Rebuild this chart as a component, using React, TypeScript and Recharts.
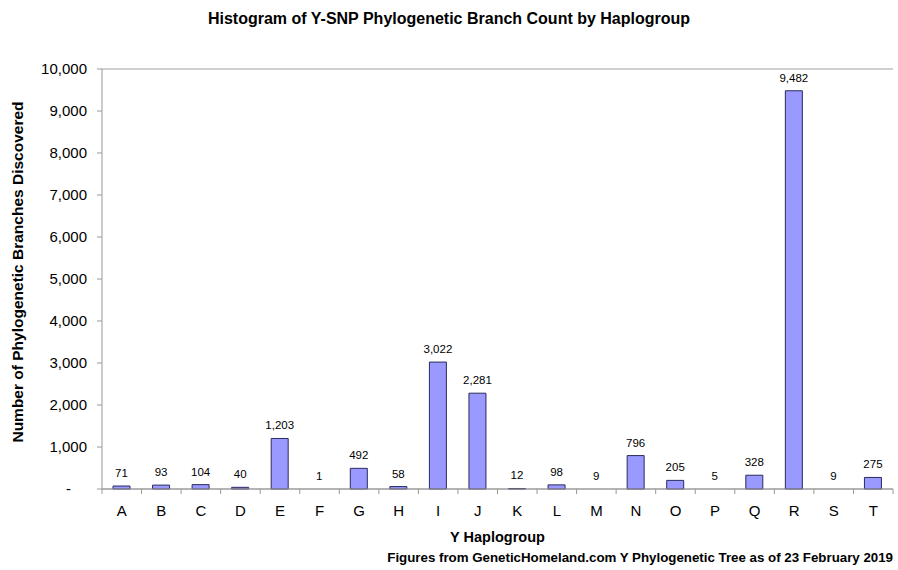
import { BarChart, Bar, XAxis, YAxis, CartesianGrid, LabelList, Rectangle } from "recharts";

const haplogroups = ["A", "B", "C", "D", "E", "F", "G", "H", "I", "J", "K", "L", "M", "N", "O", "P", "Q", "R", "S", "T"];
const branchCounts = [71, 93, 104, 40, 1203, 1, 492, 58, 3022, 2281, 12, 98, 9, 796, 205, 5, 328, 9482, 9, 275];
const yTicks = [0, 1000, 2000, 3000, 4000, 5000, 6000, 7000, 8000, 9000, 10000];

const data = haplogroups.map((h, i) => ({ group: h, count: branchCounts[i] }));

const W = 898;
const H = 570;
const PLOT_LEFT = 102;
const PLOT_RIGHT = 893;
const BAND = (PLOT_RIGHT - PLOT_LEFT) / haplogroups.length;
const FONT = "'Liberation Sans', Arial, sans-serif";

function XTick(props: any) {
  const { x, y, payload, index } = props;
  const left = x - BAND / 2;
  return (
    <g>
      <line x1={left} y1={y - 8} x2={left} y2={y - 3} stroke="#999" />
      {index === haplogroups.length - 1 && (
        <line x1={x + BAND / 2} y1={y - 8} x2={x + BAND / 2} y2={y - 3} stroke="#999" />
      )}
      <text x={x} y={y + 19} textAnchor="middle" fontSize={15} fill="#000" fontFamily={FONT}>
        {payload.value}
      </text>
    </g>
  );
}

function YTick(props: any) {
  const { x, y, payload } = props;
  const v = payload.value;
  return (
    <text
      x={v === 0 ? x - 24 : x - 8}
      y={y + 5}
      textAnchor="end"
      fontSize={15}
      fill="#000"
      fontFamily={FONT}
    >
      {v === 0 ? "-" : v.toLocaleString("en-US")}
    </text>
  );
}

// tiny values round to nothing, like the original spreadsheet chart
function BarShape(props: any) {
  if (Math.abs(props.height) < 0.45) return <g />;
  return <Rectangle {...props} />;
}

export default function App() {
  return (
    <div style={{ position: "absolute", left: 0, top: 0, width: W, height: H, background: "#fff", fontFamily: FONT }}>
      <div style={{ position: "absolute", left: 0, top: 10, width: W, textAlign: "center", fontWeight: "bold", fontSize: 16 }}>
        Histogram of Y-SNP Phylogenetic Branch Count by Haplogroup
      </div>
      <div
        style={{
          position: "absolute",
          left: 18,
          top: 272,
          transform: "translate(-50%, -50%) rotate(-90deg)",
          whiteSpace: "nowrap",
          fontWeight: "bold",
          fontSize: 15.5,
        }}
      >
        Number of Phylogenetic Branches Discovered
      </div>
      <div style={{ position: "absolute", left: PLOT_LEFT, width: PLOT_RIGHT - PLOT_LEFT, top: 529, textAlign: "center", fontWeight: "bold", fontSize: 14.5 }}>
        Y Haplogroup
      </div>
      <div style={{ position: "absolute", right: W - PLOT_RIGHT, top: 550, fontWeight: "bold", fontSize: 13.3 }}>
        Figures from GeneticHomeland.com Y Phylogenetic Tree as of 23 February 2019
      </div>
      <BarChart
        width={W}
        height={H}
        data={data}
        margin={{ top: 69, right: W - PLOT_RIGHT, left: 10, bottom: 51 }}
        barCategoryGap={0}
      >
        <CartesianGrid horizontal vertical={false} stroke="#a0a0a0" />
        <XAxis
          dataKey="group"
          height={30}
          stroke="#999"
          tickLine={false}
          tick={<XTick />}
          interval={0}
        />
        <YAxis
          yAxisId="left"
          width={PLOT_LEFT - 10}
          domain={[0, 10000]}
          ticks={yTicks}
          stroke="#999"
          tickSize={5}
          tick={<YTick />}
        />
        <YAxis yAxisId="right" orientation="right" width={0} stroke="#a0a0a0" tick={false} tickLine={false} />
        <Bar
          yAxisId="left"
          dataKey="count"
          fill="#9999FF"
          stroke="#2a2a5e"
          strokeWidth={1}
          barSize={17}
          shape={<BarShape />}
          isAnimationActive={false}
        >
          <LabelList
            dataKey="count"
            position="top"
            offset={9}
            fontSize={11.5}
            fill="#000"
            fontFamily={FONT}
            formatter={(v: any) => Number(v).toLocaleString("en-US")}
          />
        </Bar>
      </BarChart>
    </div>
  );
}
